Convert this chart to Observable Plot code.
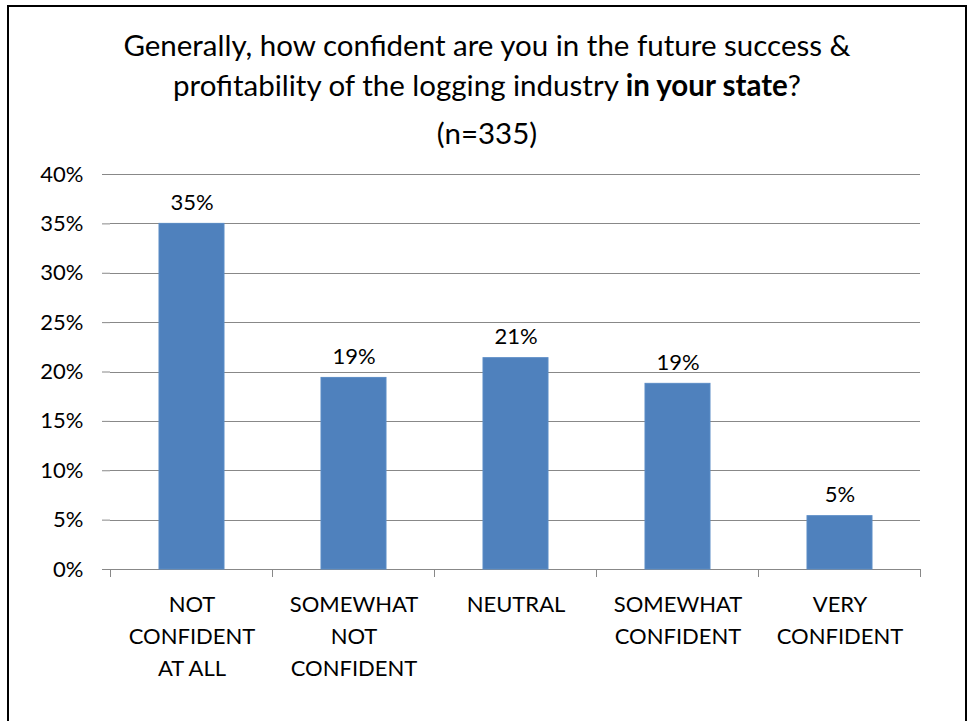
<!DOCTYPE html>
<html>
<head>
<meta charset="utf-8">
<script src="https://cdn.jsdelivr.net/npm/d3@7"></script>
<script src="https://cdn.jsdelivr.net/npm/@observablehq/plot@0.6"></script>
<style>
  html, body { margin: 0; padding: 0; background: #fff; }
  body { width: 967px; height: 721px; overflow: hidden; position: relative; font-family: Lato, "Open Sans", sans-serif; }
  #frame { position: absolute; left: 7px; top: 5px; width: 956px; height: 730px; border: 2.5px solid #000; box-sizing: content-box; }
  #titles { position: absolute; left: 0; top: 0; width: 967px; height: 160px; text-align: center; color: #000; }
  .t { position: absolute; left: 0; width: 974px; text-align: center; font-size: 29.5px; white-space: nowrap; line-height: 36px; }
  #chart { position: absolute; left: 0; top: 160px; }
</style>
</head>
<body>
<div id="frame"></div>
<div id="titles">
  <div class="t" style="top:27px">Generally, how confident are you in the future success &amp;</div>
  <div class="t" style="top:67px">profitability of the logging industry <b>in your state</b>?</div>
  <div class="t" style="top:115px">(n=335)</div>
</div>
<div id="chart"></div>
<script>
const categories = ["NOT CONFIDENT AT ALL", "SOMEWHAT NOT CONFIDENT", "NEUTRAL", "SOMEWHAT CONFIDENT", "VERY CONFIDENT"];
const tickLabels = ["NOT\nCONFIDENT\nAT ALL", "SOMEWHAT\nNOT\nCONFIDENT", "NEUTRAL", "SOMEWHAT\nCONFIDENT", "VERY\nCONFIDENT"];
const values = [0.350, 0.194, 0.214, 0.188, 0.054];
const yTicks = [0, 0.05, 0.10, 0.15, 0.20, 0.25, 0.30, 0.35, 0.40];

const data = categories.map((c, i) => ({category: c, value: values[i], label: tickLabels[i]}));
const gridColor = "#888888";
const fmt = d3.format(".0%");

// boundary ticks between category bands, derived from the band scale
function bandBoundaries(index, scales, values, dims) {
  const x = scales.x;
  const y = scales.y;
  const step = typeof x.step === "function" ? x.step() : (dims.width - dims.marginLeft - dims.marginRight) / categories.length;
  const bw = typeof x.bandwidth === "function" ? x.bandwidth() : step * 0.4;
  const g = d3.create("svg:g");
  const y0 = y(0);
  const xs = categories.map(c => x(c) + bw / 2 - step / 2);
  xs.push(x(categories[categories.length - 1]) + bw / 2 + step / 2);
  for (const xx of xs) {
    g.append("line").attr("x1", xx).attr("x2", xx).attr("y1", y0).attr("y2", y0 + 8)
      .attr("stroke", gridColor).attr("stroke-width", 1).attr("shape-rendering", "crispEdges");
  }
  return g.node();
}

const chart = Plot.plot({
  width: 967,
  height: 561,
  marginLeft: 110,
  marginRight: 47,
  marginTop: 14,
  marginBottom: 152,
  style: {fontFamily: "Lato, 'Open Sans', sans-serif", fontSize: "22px", color: "#000", background: "transparent"},
  x: {domain: categories, paddingInner: 0.6, paddingOuter: 0.3, axis: null},
  y: {domain: [0, 0.40], axis: null},
  marks: [
    Plot.ruleY(yTicks, {y: d => d, stroke: gridColor, strokeWidth: 1, strokeOpacity: 1, shapeRendering: "crispEdges"}),
    Plot.axisY(yTicks, {tickFormat: fmt, tickSize: 8, tickPadding: 19, stroke: gridColor, fontSize: 22, fill: "#000", label: null}),
    Plot.ruleX([0], {frameAnchor: "left", y1: 0, y2: 0.40, stroke: gridColor, shapeRendering: "crispEdges"}),
    Plot.barY(data, {x: "category", y: "value", fill: "#4F81BD", stroke: "#5B8CC6", strokeWidth: 1}),
    Plot.text(data, {x: "category", y: "value", text: d => fmt(d.value), dy: -21, fontSize: 22, fill: "#000"}),
    Plot.text(data, {x: "category", text: "label", frameAnchor: "bottom", lineAnchor: "top", dy: 20, lineHeight: 1.455, fontSize: 22, fill: "#000"}),
    bandBoundaries
  ]
});
document.getElementById("chart").appendChild(chart);
</script>
</body>
</html>
